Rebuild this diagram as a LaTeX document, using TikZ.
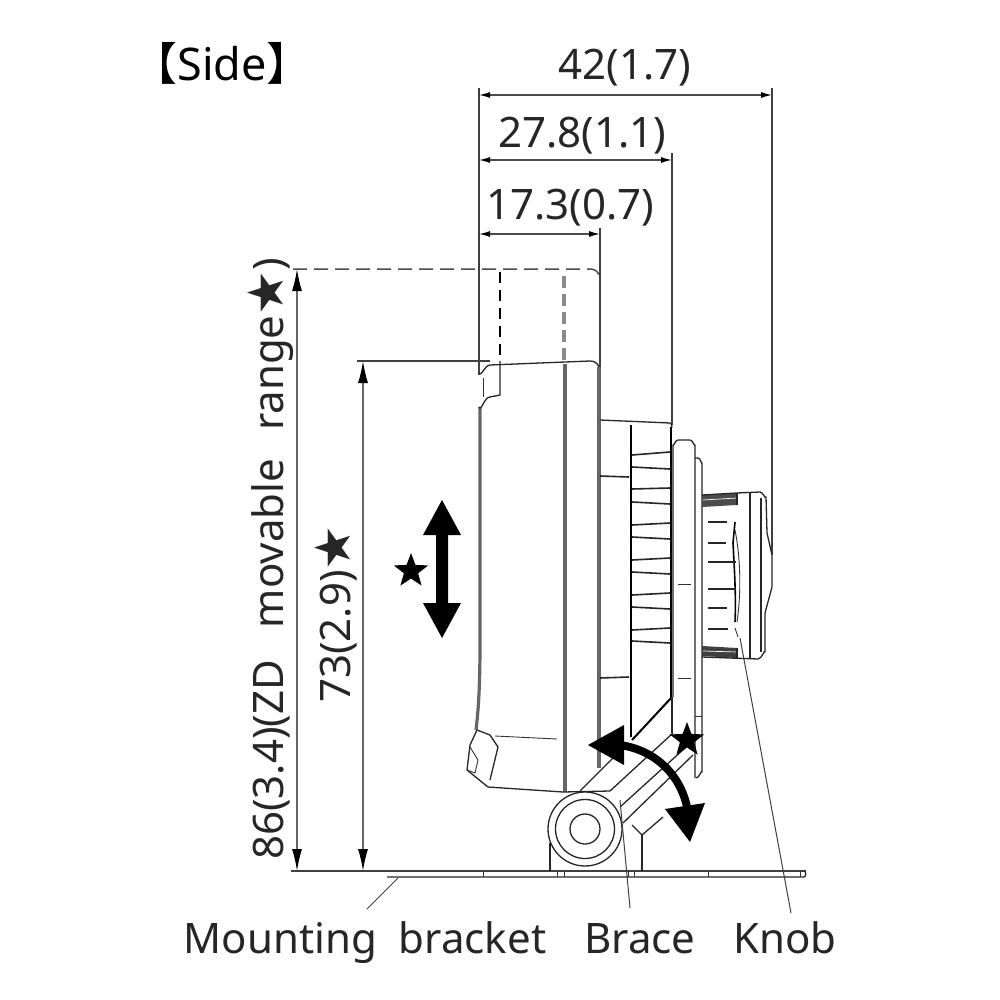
\documentclass[tikz,border=0pt]{standalone}
\usepackage{fontspec}
\setmainfont{Noto Sans}
\newfontfamily\cjkfont{Noto Sans CJK JP}
\newfontfamily\symfont{DejaVu Sans}
\usepackage{tikz}
\usetikzlibrary{arrows.meta,shapes.geometric}
\tikzstyle{outline} = [draw=black!85, line width=1.3pt, line join=round]
\tikzstyle{thin line} = [draw=black!80, line width=0.9pt]
\tikzstyle{heavy line} = [draw=black, line width=2.6pt]
\tikzstyle{double edge} = [draw=black!60, line width=3.2pt]
\tikzstyle{hidden line} = [draw=black!70, line width=1.5pt, dash pattern=on 14pt off 7pt]
\tikzstyle{dimline} = [draw=black!70, line width=1.3pt, {Latex[length=11pt,width=6pt,black]}-{Latex[length=11pt,width=6pt,black]}]
\tikzstyle{tall dimline} = [draw=black!60, line width=1.4pt, {Latex[length=22pt,width=10pt,black]}-{Latex[length=22pt,width=10pt,black]}]
\tikzstyle{extline} = [draw=black!75, line width=1.3pt]
\tikzstyle{leader} = [draw=black!75, line width=1pt]
\tikzstyle{dimtext} = [inner sep=0pt, font=\fontsize{42}{42}\selectfont, text=black!85]
\tikzstyle{blackstar} = [star, star points=5, star point ratio=2.4, fill=black, inner sep=0pt, minimum size=42pt]
\tikzstyle{bigarrow} = [fill=black, draw=none]

\newcommand{\bigstar}{{\symfont\fontsize{50}{50}\selectfont ★}}

\begin{document}
\begin{tikzpicture}[x=1pt, y=-1pt]
    \useasboundingbox (0,0) rectangle (1000,1000);
    \fill[white] (0,0) rectangle (1000,1000);

    % labels
    \node[dimtext, font=\fontsize{45}{45}\selectfont, text=black] (sidelabel) at (222,63) {{\cjkfont 【}Side{\cjkfont 】}};
    \node[dimtext] (dimA) at (625,68) {42(1.7)};
    \node[dimtext] (dimB) at (582,136) {27.8(1.1)};
    \node[dimtext] (dimC) at (570,208) {17.3(0.7)};
    \node[dimtext, rotate=90, anchor=base west] (dimD) at (283,860) {86(3.4)(ZD\hspace{32pt}movable\hspace{28pt}range\bigstar)};
    \node[dimtext, rotate=90, anchor=base west] (dimE) at (350,703) {73(2.9)\bigstar};
    \node[dimtext, anchor=base] (bracketlabel) at (365,953) {Mounting\ \ bracket};
    \node[dimtext, anchor=base] (bracelabel) at (640,953) {Brace};
    \node[dimtext, anchor=base] (knoblabel) at (785,953) {Knob};

    % reference points of the dimensions
    \coordinate (frontA) at (479,95);
    \coordinate (backA) at (772,95);
    \coordinate (frontB) at (479,160);
    \coordinate (backB) at (672,160);
    \coordinate (frontC) at (479,234);
    \coordinate (backC) at (600,234);
    \coordinate (raisedTop) at (297,269);
    \coordinate (raisedBase) at (297,871);
    \coordinate (normalTop) at (363,361);
    \coordinate (normalBase) at (363,871);

    % extension lines
    \draw[extline] (479,88) -- (479,375);
    \draw[extline] (772,88) -- (772,555);
    \draw[extline] (672,153) -- (672,425);
    \draw[extline] (600,228) -- (600,275);
    \draw[extline] (357,361) -- (490,361);
    \draw[extline] (291,871) -- (806,871);

    % dimension lines
    \draw[dimline] (frontA) -- (backA);
    \draw[dimline] (frontB) -- (backB);
    \draw[dimline] (frontC) -- (backC);
    \draw[tall dimline] (raisedTop) -- (raisedBase);
    \draw[tall dimline] (normalTop) -- (normalBase);

    % raised position of the display
    \draw[hidden line] (293,269) -- (590,269) to[out=0, in=110] (599,275);
    \draw[draw=black, line width=2.4pt, dash pattern=on 11pt off 7pt] (500,272) -- (500,361);
    \draw[draw=black!45, line width=3.4pt, dash pattern=on 12pt off 6pt] (564,276) -- (564,361);

    % display body
    \draw[double edge] (480,407) -- (480,640) .. controls (480,680) and (479,705) .. (476,730);
    \draw[outline] (479,407) to[out=-70, in=180] (490,397) -- (500,395) -- (500,361);
    \draw[outline] (479,373) to[out=-70, in=180] (490,365) -- (590,361) to[out=0, in=110] (599,367);
    \draw[thin line] (483,378) -- (483,397);
    \draw[double edge] (565,364) -- (565,792);
    \draw[double edge] (599,367) -- (599,768);
    \draw[extline] (600,275) -- (600,367);

    % latch at the bottom of the body
    \draw[outline] (477,730) -- (490,735) -- (498,747) -- (490,780);
    \draw[outline] (477,730) -- (470,745) -- (467,770) -- (488,787) -- (563,792);
    \draw[thin line] (470,747) -- (478,760) -- (475,773) -- (467,770);
    \draw[thin line] (495,736) -- (557,739);

    % block behind the display
    \draw[outline] (600,420) -- (670,423) to[out=0, in=-90] (672,427);
    \draw[heavy line] (631,425) -- (631,737);
    \draw[heavy line] (671,427) -- (671,697);
    \foreach \ya/\yb in {455/452, 467/469, 489/488, 502/504, 525/523, 537/539, 560/558, 572/574, 595/593, 607/609, 630/628, 641/643}
        \draw[outline, line width=1.6pt] (632,\ya) -- (670,\yb);
    \draw[outline, line width=1.6pt] (600,476) -- (629,477);
    \draw[outline, line width=1.6pt] (600,678) -- (629,677);

    % plates
    \draw[outline] (673,697) -- (673,445) to[out=-90, in=180] (678,440) -- (690,440) to[out=0, in=-90] (695,445) -- (695,778);
    \draw[outline] (695,458) -- (698,458) to[out=0, in=-90] (702,463) -- (702,772) to[out=90, in=0] (696,778);
    \draw[thin line] (695,716) -- (702,716);
    \draw[thin line] (678,584) -- (691,584);
    \draw[thin line] (678,678) -- (691,678);

    % knob
    \fill[black!70] (702,495) -- (737,493) -- (737,505) -- (702,507) -- cycle;
    \fill[black!75] (702,646) -- (737,648) -- (737,658) -- (702,656) -- cycle;
    \draw[draw=white, line width=0.7pt] (703,500) -- (737,498) (703,651) -- (737,652);
    \draw[outline] (702,495) -- (737,493) -- (760,492) to[out=0, in=-100] (766,497) -- (767,533) -- (772,555) -- (772,587) -- (765,613) -- (765,652) to[out=90, in=0] (758,659) -- (702,657);
    \draw[outline] (750,492) -- (750,659);
    \draw[outline] (761,498) -- (761,652);
    \draw[outline] (737,493) -- (737,505);
    \draw[outline] (737,648) -- (737,658);
    \draw[heavy line, line width=1.6pt] (735,522) -- (733,543) .. controls (735,580) and (736,600) .. (735,622);
    \draw[thin line] (735,530) .. controls (741,560) and (741,595) .. (737,622);
    \draw[thin line] (735,628) -- (738,637);
    \foreach \ya/\xb in {522/727, 543/726, 562/736, 589/736, 608/727, 629/728}
        \draw[outline] (708,\ya) -- (\xb,\ya);

    % brace
    \draw[outline] (563,792) -- (610,791) -- (673,733);
    \draw[outline] (580,791) -- (624,747);
    \draw[heavy line, line width=2pt] (632,740) -- (672,697);
    \draw[outline] (672,697) -- (672,733);
    \draw[outline] (620,807) -- (685,748);
    \draw[outline] (623,823) -- (693,755);
    \draw[outline] (632,825) -- (642,835) -- (663,817);
    \draw[outline] (642,835) -- (642,871);
    \draw[outline] (550,843) -- (550,871);

    % hinge
    \node[circle, fill=white, draw=black!85, line width=1.3pt, minimum size=74pt, inner sep=0pt] (hingeouter) at (585,829) {};
    \node[circle, draw=black!85, line width=1.3pt, minimum size=59pt, inner sep=0pt] (hingemiddle) at (585,829) {};
    \node[circle, draw=black!85, line width=1.3pt, minimum size=30pt, inner sep=0pt] (hingeinner) at (585,829) {};

    % mounting bracket
    \draw[outline] (387,877) -- (804,877) to[out=0, in=0] (804,871);
    \foreach \xt in {483, 557, 564, 628, 634, 708, 800}
        \draw[thin line] (\xt,871) -- (\xt,877);

    % leaders
    \coordinate (bracketend) at (398,878);
    \coordinate (braceend) at (620,800);
    \coordinate (knobend) at (740,638);
    \draw[leader] (bracketend) -- (367,909);
    \draw[leader] (braceend) -- (630,908);
    \draw[leader] (knobend) -- (791,913);

    % movement arrows
    \fill[bigarrow] (442,500) -- (461,535) -- (448,535) -- (448,603) -- (461,603) -- (442,638) -- (423,603) -- (436,603) -- (436,535) -- (423,535) -- cycle;
    \draw[draw=black, line width=8pt] (620,745) .. controls (655,750) and (682,775) .. (688,812);
    \fill[bigarrow] (588,745) -- (624,725) -- (624,765) -- cycle;
    \fill[bigarrow] (690,842) -- (665,809) -- (705,803) -- cycle;

    % stars
    \node[blackstar, minimum size=36pt] (slidestar) at (411,571) {};
    \node[blackstar, minimum size=36pt] (tiltstar) at (687,740) {};
\end{tikzpicture}
\end{document}
